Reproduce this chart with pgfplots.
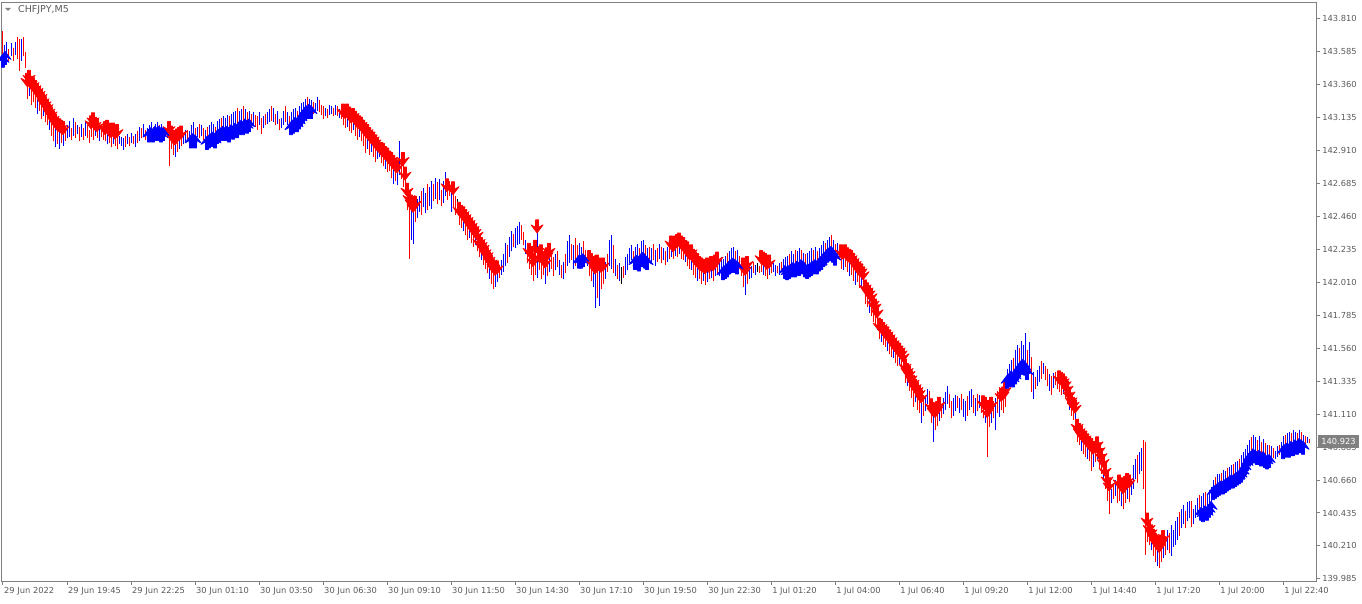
\documentclass[border=0pt]{standalone}
\usepackage{pgfplots}
\pgfplotsset{compat=1.18}
\usepackage{pgfplotstable}
\usepackage{fontspec}
\setmainfont{DejaVu Sans}
\definecolor{mtred}{RGB}{255,0,0}
\definecolor{mtblue}{RGB}{0,0,255}
\definecolor{mtgray}{RGB}{128,128,128}
\definecolor{mttext}{RGB}{90,90,90}
\newcommand\tf{\fontsize{8.3}{10}\selectfont}
\pgfdeclareplotmark{dnarrow}{%
 \pgfpathmoveto{\pgfpoint{0pt}{-5pt}}%
 \pgfpathlineto{\pgfpoint{6pt}{3pt}}%
 \pgfpathlineto{\pgfpoint{1.5pt}{0.5pt}}%
 \pgfpathlineto{\pgfpoint{1.5pt}{8pt}}%
 \pgfpathlineto{\pgfpoint{-1.5pt}{8pt}}%
 \pgfpathlineto{\pgfpoint{-1.5pt}{0.5pt}}%
 \pgfpathlineto{\pgfpoint{-6pt}{3pt}}%
 \pgfpathclose
 \pgfusepathqfillstroke}
\pgfdeclareplotmark{uparrow}{%
 \pgfpathmoveto{\pgfpoint{0pt}{5pt}}%
 \pgfpathlineto{\pgfpoint{6pt}{-3pt}}%
 \pgfpathlineto{\pgfpoint{1.5pt}{-0.5pt}}%
 \pgfpathlineto{\pgfpoint{1.5pt}{-8pt}}%
 \pgfpathlineto{\pgfpoint{-1.5pt}{-8pt}}%
 \pgfpathlineto{\pgfpoint{-1.5pt}{-0.5pt}}%
 \pgfpathlineto{\pgfpoint{-6pt}{-3pt}}%
 \pgfpathclose
 \pgfusepathqfillstroke}
\pgfplotstableread{
i lo hi c s
0 143.53 143.72 0 2
1 143.55 143.63 1 2
2 143.54 143.65 1 0
3 143.51 143.60 0 0
4 143.55 143.64 1 0
5 143.52 143.61 0 0
6 143.56 143.65 1 0
7 143.53 143.68 0 0
8 143.45 143.67 0 0
9 143.52 143.67 1 0
10 143.55 143.68 0 0
11 143.47 143.58 0 0
12 143.26 143.38 0 1
13 143.28 143.40 1 1
14 143.22 143.36 0 1
15 143.24 143.35 0 1
16 143.20 143.33 0 1
17 143.16 143.31 1 1
18 143.18 143.29 0 1
19 143.12 143.27 0 1
20 143.14 143.24 1 1
21 143.10 143.22 0 1
22 143.08 143.20 0 1
23 143.05 143.17 1 1
24 143.01 143.15 0 1
25 142.97 143.12 0 1
26 142.93 143.10 1 1
27 142.95 143.08 0 1
28 142.92 143.07 1 1
29 142.96 143.06 0 1
30 142.94 143.05 1 1
31 142.97 143.07 0 0
32 142.99 143.08 1 0
33 143.00 143.11 1 0
34 142.98 143.06 0 0
35 143.01 143.13 1 0
36 142.99 143.10 0 0
37 143.02 143.08 1 0
38 142.97 143.07 0 0
39 143.00 143.09 1 0
40 142.98 143.06 0 0
41 143.01 143.10 1 0
42 142.99 143.08 0 0
43 142.96 143.05 0 0
44 143.00 143.09 0 1
45 142.98 143.11 0 1
46 143.01 143.08 1 1
47 142.99 143.07 0 1
48 142.97 143.06 1 0
49 143.00 143.08 0 0
50 142.98 143.05 0 0
51 142.97 143.05 0 1
52 142.95 143.06 1 1
53 142.96 143.04 0 1
54 142.93 143.03 0 1
55 142.95 143.04 1 1
56 142.94 143.02 0 1
57 142.92 143.03 0 1
58 142.95 143.01 1 0
59 142.94 143.00 1 0
60 142.91 142.99 1 0
61 142.93 143.01 0 0
62 142.95 143.02 1 0
63 142.94 143.00 0 0
64 142.96 143.03 1 0
65 142.95 143.01 0 0
66 142.93 143.02 1 0
67 142.96 143.04 0 0
68 142.97 143.07 1 0
69 142.99 143.06 0 0
70 143.00 143.09 1 0
71 142.98 143.05 0 0
72 143.00 143.06 1 0
73 143.02 143.08 1 2
74 143.03 143.10 1 2
75 143.02 143.07 0 2
76 143.04 143.09 1 2
77 143.03 143.10 1 2
78 143.04 143.08 0 2
79 143.02 143.09 1 2
80 143.03 143.07 0 2
81 143.01 143.06 0 0
82 142.99 143.05 1 0
83 142.80 143.05 0 1
84 142.92 143.02 0 1
85 142.88 142.99 0 1
86 142.86 142.98 1 1
87 142.90 143.00 0 1
88 142.92 143.01 1 1
89 142.94 143.02 0 1
90 142.95 143.03 1 0
91 142.96 143.05 1 0
92 142.97 143.05 0 0
93 142.96 143.04 1 0
94 142.98 143.08 1 2
95 142.99 143.10 1 2
96 142.98 143.06 0 2
97 143.00 143.07 1 0
98 142.99 143.09 0 0
99 143.01 143.08 1 0
100 142.98 143.06 0 0
101 142.99 143.05 1 0
102 142.97 143.07 0 2
103 142.98 143.08 1 2
104 142.99 143.10 1 2
105 143.00 143.09 1 2
106 142.98 143.07 0 2
107 143.01 143.11 1 2
108 143.02 143.12 1 2
109 143.03 143.13 0 2
110 143.04 143.14 1 2
111 143.03 143.13 1 2
112 143.04 143.15 1 2
113 143.02 143.14 0 2
114 143.05 143.16 1 2
115 143.04 143.17 1 2
116 143.06 143.18 1 2
117 143.05 143.20 0 2
118 143.07 143.18 1 2
119 143.08 143.19 1 2
120 143.07 143.21 0 2
121 143.09 143.19 1 2
122 143.08 143.17 0 2
123 143.09 143.18 1 2
124 143.07 143.16 0 0
125 143.08 143.17 1 0
126 143.07 143.15 0 0
127 143.05 143.14 0 0
128 143.08 143.17 1 0
129 143.02 143.13 0 0
130 143.06 143.14 1 0
131 143.08 143.16 0 0
132 143.09 143.17 1 0
133 143.10 143.19 1 0
134 143.11 143.21 0 0
135 143.10 143.20 1 0
136 143.08 143.16 0 0
137 143.09 143.18 1 0
138 143.05 143.12 0 0
139 143.06 143.13 1 0
140 143.08 143.18 1 0
141 143.10 143.21 0 0
142 143.08 143.17 1 0
143 143.06 143.14 0 0
144 143.07 143.17 1 2
145 143.08 143.19 1 2
146 143.10 143.20 1 2
147 143.09 143.18 0 2
148 143.11 143.21 1 2
149 143.13 143.23 1 2
150 143.15 143.24 1 2
151 143.17 143.26 1 2
152 143.18 143.27 0 2
153 143.19 143.26 1 2
154 143.18 143.25 1 2
155 143.16 143.24 0 0
156 143.17 143.23 1 0
157 143.18 143.27 1 0
158 143.17 143.25 0 0
159 143.15 143.22 0 0
160 143.12 143.21 0 0
161 143.14 143.20 1 0
162 143.13 143.19 0 0
163 143.15 143.22 1 0
164 143.16 143.21 1 0
165 143.14 143.20 0 0
166 143.15 143.22 1 0
167 143.14 143.21 0 0
168 143.13 143.19 1 0
169 143.12 143.20 0 0
170 143.08 143.17 0 1
171 143.06 143.16 0 1
172 143.07 143.17 1 1
173 143.04 143.15 0 1
174 143.03 143.13 0 1
175 143.05 143.14 1 1
176 143.01 143.12 0 1
177 142.98 143.10 0 1
178 143.00 143.09 1 1
179 142.97 143.08 0 1
180 142.94 143.06 0 1
181 142.89 143.04 0 1
182 142.92 143.03 1 1
183 142.88 143.01 0 1
184 142.90 142.99 1 1
185 142.86 142.98 0 1
186 142.83 142.96 0 1
187 142.85 142.94 1 1
188 142.86 142.95 1 0
189 142.82 142.91 0 1
190 142.80 142.90 0 1
191 142.78 142.88 1 1
192 142.76 142.87 0 1
193 142.77 142.85 0 1
194 142.72 142.84 0 1
195 142.68 142.82 1 1
196 142.70 142.80 0 1
197 142.67 142.79 1 1
198 142.74 142.97 1 0
199 142.71 142.82 0 0
200 142.66 142.84 0 1
201 142.64 142.74 0 1
202 142.50 142.63 0 1
203 142.17 142.58 0 1
204 142.30 142.55 1 1
205 142.27 142.52 1 1
206 142.42 142.54 0 1
207 142.45 142.58 1 0
208 142.49 142.60 1 0
209 142.47 142.63 0 0
210 142.52 142.65 1 0
211 142.48 142.62 1 0
212 142.50 142.68 0 0
213 142.53 142.66 1 0
214 142.51 142.70 1 0
215 142.56 142.68 0 0
216 142.58 142.72 1 0
217 142.54 142.69 0 0
218 142.57 142.71 1 0
219 142.53 142.64 0 0
220 142.55 142.70 1 0
221 142.60 142.76 1 0
222 142.57 142.66 0 1
223 142.60 142.70 0 0
224 142.49 142.63 1 0
225 142.52 142.64 0 1
226 142.47 142.60 0 0
227 142.49 142.58 2 0
228 142.40 142.50 0 1
229 142.38 142.48 0 1
230 142.36 142.47 1 1
231 142.33 142.45 0 1
232 142.30 142.43 0 1
233 142.31 142.41 1 1
234 142.28 142.39 0 1
235 142.25 142.37 0 1
236 142.26 142.35 1 1
237 142.22 142.33 0 1
238 142.18 142.28 0 1
239 142.16 142.26 1 1
240 142.13 142.24 0 1
241 142.10 142.21 0 1
242 142.07 142.19 0 1
243 142.03 142.16 1 1
244 142.00 142.14 0 1
245 141.96 142.11 0 1
246 141.98 142.09 1 1
247 142.01 142.10 1 1
248 142.04 142.13 0 0
249 142.06 142.16 1 0
250 142.08 142.20 1 0
251 142.12 142.28 1 0
252 142.14 142.26 0 0
253 142.18 142.32 1 0
254 142.22 142.36 1 0
255 142.25 142.34 0 0
256 142.24 142.38 1 0
257 142.26 142.39 1 0
258 142.27 142.42 1 0
259 142.30 142.40 0 0
260 142.26 142.35 0 0
261 142.20 142.30 1 0
262 142.14 142.25 0 0
263 142.10 142.22 0 1
264 142.06 142.20 0 1
265 142.02 142.15 0 1
266 142.06 142.24 0 1
267 142.04 142.38 1 1
268 142.09 142.18 0 1
269 142.03 142.21 0 1
270 142.06 142.16 0 1
271 142.00 142.14 1 1
272 142.05 142.19 0 1
273 142.08 142.22 1 1
274 142.10 142.20 0 0
275 142.05 142.18 0 0
276 142.09 142.20 1 0
277 142.11 142.22 0 0
278 142.06 142.16 1 0
279 142.04 142.13 0 0
280 142.03 142.15 1 0
281 142.07 142.20 0 0
282 142.12 142.29 1 0
283 142.14 142.33 1 0
284 142.16 142.27 0 0
285 142.10 142.26 1 0
286 142.12 142.31 0 0
287 142.15 142.26 0 0
288 142.16 142.28 1 2
289 142.16 142.25 1 2
290 142.17 142.29 0 2
291 142.14 142.23 0 0
292 142.12 142.22 1 0
293 142.05 142.17 0 1
294 142.02 142.15 0 1
295 141.98 142.13 1 1
296 141.83 142.10 1 1
297 141.90 142.14 0 1
298 141.85 142.12 1 1
299 141.96 142.11 0 1
300 142.00 142.12 0 1
301 142.03 142.15 1 0
302 142.08 142.20 0 0
303 142.12 142.30 1 0
304 142.10 142.33 1 0
305 142.07 142.26 0 0
306 142.05 142.17 1 0
307 142.03 142.13 0 0
308 142.02 142.14 1 0
309 142.00 142.11 2 0
310 142.04 142.12 0 0
311 142.06 142.18 1 0
312 142.09 142.20 1 0
313 142.14 142.24 1 0
314 142.16 142.26 1 0
315 142.12 142.22 0 0
316 142.15 142.25 1 2
317 142.16 142.27 1 2
318 142.14 142.24 0 2
319 142.17 142.29 1 2
320 142.18 142.30 1 2
321 142.16 142.26 0 2
322 142.15 142.24 1 2
323 142.17 142.25 0 0
324 142.14 142.24 1 0
325 142.16 142.27 0 0
326 142.12 142.23 1 0
327 142.15 142.24 0 0
328 142.17 142.27 1 0
329 142.14 142.25 0 0
330 142.16 142.24 1 0
331 142.13 142.22 0 0
332 142.15 142.25 1 0
333 142.17 142.27 0 0
334 142.18 142.27 1 1
335 142.17 142.25 0 1
336 142.19 142.27 1 1
337 142.18 142.28 0 1
338 142.20 142.29 1 1
339 142.17 142.27 0 1
340 142.16 142.26 0 1
341 142.15 142.24 1 1
342 142.12 142.23 0 1
343 142.10 142.20 0 1
344 142.09 142.21 1 1
345 142.06 142.18 0 1
346 142.04 142.16 0 1
347 142.02 142.15 1 1
348 142.03 142.13 0 1
349 142.00 142.12 0 1
350 142.02 142.11 1 1
351 141.99 142.10 0 1
352 142.01 142.12 1 1
353 142.03 142.11 0 1
354 142.04 142.13 1 1
355 142.02 142.12 0 1
356 142.05 142.14 1 1
357 142.06 142.16 0 1
358 142.05 142.15 1 0
359 142.07 142.18 1 0
360 142.08 142.17 1 2
361 142.09 142.19 1 2
362 142.10 142.21 0 2
363 142.12 142.22 1 2
364 142.13 142.24 1 2
365 142.14 142.25 1 2
366 142.13 142.22 0 2
367 142.12 142.23 1 2
368 142.11 142.19 0 0
369 142.05 142.17 0 0
370 141.98 142.12 0 1
371 141.92 142.09 1 1
372 142.00 142.13 0 1
373 142.03 142.11 1 0
374 142.04 142.12 1 0
375 142.07 142.15 0 0
376 142.06 142.13 1 0
377 142.08 142.14 2 0
378 142.07 142.12 0 0
379 142.08 142.17 0 1
380 142.06 142.16 1 1
381 142.05 142.15 0 1
382 142.03 142.13 0 1
383 142.06 142.14 1 1
384 142.07 142.15 0 0
385 142.08 142.14 1 0
386 142.05 142.13 1 0
387 142.07 142.12 0 0
388 142.06 142.14 1 0
389 142.08 142.15 0 0
390 142.09 142.17 1 0
391 142.09 142.18 1 2
392 142.08 142.19 1 2
393 142.09 142.20 0 2
394 142.10 142.22 1 2
395 142.11 142.20 1 2
396 142.10 142.23 0 2
397 142.12 142.22 1 2
398 142.11 142.24 1 2
399 142.13 142.23 0 2
400 142.12 142.21 1 2
401 142.10 142.20 0 2
402 142.09 142.21 1 2
403 142.10 142.22 1 2
404 142.11 142.24 1 2
405 142.12 142.23 0 2
406 142.13 142.25 1 2
407 142.12 142.22 0 2
408 142.14 142.24 1 2
409 142.15 142.26 1 2
410 142.17 142.29 1 2
411 142.18 142.28 0 2
412 142.20 142.30 1 2
413 142.21 142.32 1 2
414 142.22 142.33 0 2
415 142.20 142.30 1 2
416 142.18 142.27 0 2
417 142.19 142.28 1 0
418 142.17 142.26 0 0
419 142.10 142.21 0 1
420 142.09 142.20 1 1
421 142.11 142.21 0 1
422 142.08 142.19 0 1
423 142.05 142.18 1 1
424 142.06 142.17 0 1
425 142.02 142.15 0 1
426 141.99 142.13 1 1
427 142.01 142.11 0 1
428 141.97 142.09 0 1
429 141.98 142.08 1 1
430 141.95 142.06 0 1
431 141.86 141.97 0 1
432 141.84 141.95 0 1
433 141.80 141.93 1 1
434 141.78 141.91 0 1
435 141.74 141.86 0 1
436 141.72 141.84 0 1
437 141.68 141.80 1 1
438 141.62 141.71 0 1
439 141.60 141.70 1 1
440 141.58 141.68 0 1
441 141.57 141.66 0 1
442 141.54 141.65 1 1
443 141.52 141.63 0 1
444 141.50 141.61 0 1
445 141.49 141.59 1 1
446 141.46 141.57 0 1
447 141.44 141.55 0 1
448 141.45 141.54 1 1
449 141.42 141.52 0 1
450 141.40 141.50 0 1
451 141.32 141.43 0 1
452 141.30 141.40 1 1
453 141.27 141.38 0 1
454 141.22 141.35 0 1
455 141.16 141.32 0 1
456 141.19 141.29 1 1
457 141.14 141.27 0 1
458 141.12 141.25 0 1
459 141.05 141.22 1 1
460 141.10 141.24 0 0
461 141.13 141.23 1 0
462 141.18 141.28 1 0
463 141.16 141.27 0 0
464 141.05 141.16 0 1
465 140.92 141.13 1 1
466 141.00 141.12 0 1
467 141.03 141.14 0 1
468 141.06 141.17 1 1
469 141.08 141.18 0 0
470 141.11 141.22 1 0
471 141.14 141.26 1 0
472 141.18 141.30 1 0
473 141.15 141.25 0 0
474 141.08 141.20 0 0
475 141.10 141.22 1 0
476 141.13 141.24 1 0
477 141.15 141.23 0 0
478 141.12 141.22 1 0
479 141.14 141.25 0 0
480 141.09 141.21 1 0
481 141.06 141.20 1 0
482 141.10 141.23 0 0
483 141.14 141.27 1 0
484 141.16 141.28 1 0
485 141.12 141.24 0 0
486 141.10 141.22 1 0
487 141.13 141.25 0 0
488 141.15 141.24 1 0
489 141.12 141.21 0 0
490 141.08 141.18 0 1
491 141.05 141.17 1 1
492 140.82 141.12 0 1
493 141.02 141.15 0 1
494 141.05 141.17 1 1
495 141.08 141.20 0 0
496 141.00 141.22 1 0
497 141.12 141.27 0 0
498 141.09 141.24 1 0
499 141.14 141.23 0 1
500 141.12 141.24 0 1
501 141.16 141.27 0 1
502 141.34 141.42 1 2
503 141.35 141.45 1 2
504 141.37 141.48 1 2
505 141.35 141.49 0 2
506 141.37 141.55 1 2
507 141.40 141.58 1 2
508 141.42 141.56 0 2
509 141.44 141.61 1 2
510 141.45 141.58 1 2
511 141.43 141.66 1 2
512 141.40 141.55 0 2
513 141.38 141.60 1 0
514 141.26 141.50 0 0
515 141.21 141.40 1 0
516 141.28 141.36 0 0
517 141.30 141.41 1 0
518 141.33 141.44 1 0
519 141.35 141.47 0 0
520 141.38 141.46 1 0
521 141.34 141.44 0 0
522 141.30 141.42 0 0
523 141.27 141.38 1 0
524 141.24 141.37 0 0
525 141.29 141.39 1 0
526 141.31 141.40 0 0
527 141.28 141.37 0 0
528 141.26 141.35 0 1
529 141.24 141.34 0 1
530 141.25 141.33 1 1
531 141.22 141.31 0 1
532 141.18 141.28 0 1
533 141.14 141.24 1 1
534 141.10 141.20 0 1
535 141.07 141.17 0 1
536 141.06 141.15 1 1
537 140.92 141.02 0 1
538 140.90 140.99 0 1
539 140.86 140.97 1 1
540 140.84 140.95 0 1
541 140.82 140.94 0 1
542 140.80 140.92 1 1
543 140.79 140.90 0 1
544 140.72 140.89 0 1
545 140.75 140.87 1 1
546 140.78 140.88 0 0
547 140.80 140.90 1 1
548 140.74 140.86 0 1
549 140.70 140.82 0 1
550 140.66 140.78 1 1
551 140.60 140.72 0 1
552 140.52 140.66 0 1
553 140.43 140.62 0 1
554 140.50 140.60 1 0
555 140.53 140.64 0 0
556 140.55 140.66 1 0
557 140.50 140.62 0 0
558 140.52 140.64 0 1
559 140.48 140.62 1 1
560 140.46 140.60 0 1
561 140.50 140.63 0 1
562 140.53 140.65 1 1
563 140.51 140.64 0 1
564 140.56 140.67 1 0
565 140.60 140.76 1 0
566 140.67 140.80 1 0
567 140.64 140.83 0 0
568 140.70 140.85 1 0
569 140.72 140.88 1 0
570 140.60 140.93 0 0
571 140.15 140.92 0 0
572 140.24 140.38 0 1
573 140.22 140.33 0 1
574 140.18 140.30 1 1
575 140.14 140.27 0 1
576 140.10 140.24 0 1
577 140.07 140.22 1 1
578 140.06 140.20 0 1
579 140.10 140.23 0 1
580 140.13 140.26 1 1
581 140.15 140.28 0 0
582 140.18 140.32 1 0
583 140.16 140.30 0 0
584 140.14 140.35 1 0
585 140.20 140.32 1 0
586 140.22 140.38 1 0
587 140.25 140.41 1 0
588 140.28 140.44 0 0
589 140.33 140.46 1 0
590 140.36 140.49 1 0
591 140.33 140.45 0 0
592 140.38 140.51 1 0
593 140.40 140.52 1 0
594 140.34 140.52 0 0
595 140.36 140.46 1 0
596 140.40 140.49 1 0
597 140.42 140.54 1 0
598 140.44 140.56 0 0
599 140.44 140.55 1 2
600 140.43 140.57 1 2
601 140.45 140.58 0 2
602 140.44 140.56 1 2
603 140.46 140.59 1 2
604 140.48 140.61 1 2
605 140.58 140.66 1 2
606 140.59 140.68 0 2
607 140.60 140.70 1 2
608 140.61 140.70 1 2
609 140.62 140.71 0 2
610 140.62 140.73 1 2
611 140.63 140.72 1 2
612 140.64 140.74 0 2
613 140.65 140.75 1 2
614 140.66 140.76 1 2
615 140.66 140.77 0 2
616 140.67 140.78 1 2
617 140.68 140.79 1 2
618 140.69 140.80 0 2
619 140.70 140.83 1 2
620 140.72 140.85 1 2
621 140.75 140.87 1 2
622 140.78 140.90 1 2
623 140.81 140.93 1 2
624 140.82 140.95 0 2
625 140.84 140.97 1 2
626 140.83 140.95 1 2
627 140.82 140.93 0 2
628 140.83 140.96 1 2
629 140.81 140.92 0 2
630 140.82 140.94 1 2
631 140.80 140.91 0 2
632 140.79 140.90 1 2
633 140.80 140.90 0 2
634 140.81 140.89 1 0
635 140.81 140.88 0 0
636 140.80 140.86 1 0
637 140.82 140.89 1 0
638 140.83 140.90 0 0
639 140.84 140.92 1 0
640 140.86 140.96 1 2
641 140.87 140.97 0 2
642 140.88 140.98 1 2
643 140.87 140.99 1 2
644 140.89 140.98 0 2
645 140.88 141.00 1 2
646 140.90 140.99 1 2
647 140.89 140.98 0 2
648 140.91 141.00 1 2
649 140.90 140.99 0 2
650 140.89 140.97 1 2
651 140.90 140.96 0 0
652 140.91 140.95 1 0
653 140.91 140.94 0 0
}\bars
\begin{document}
\begin{tikzpicture}
\useasboundingbox (0,0) rectangle (1362pt,603pt);
\begin{axis}[
  at={(2pt,22pt)}, anchor=south west, scale only axis,
  width=1314pt, height=578pt,
  xmin=-0.5, xmax=656.5, ymin=139.971, ymax=143.914,
  clip mode=individual,
  axis line style={mtgray, line width=1pt},
  tick align=outside, major tick length=4pt,
  major tick style={mtgray, line width=1pt},
  xtick pos=left, ytick pos=right, yticklabel pos=right,
  xtick={0,32,...,640},
  xticklabels={29 Jun 2022,29 Jun 19:45,29 Jun 22:25,30 Jun 01:10,30 Jun 03:50,30 Jun 06:30,30 Jun 09:10,30 Jun 11:50,30 Jun 14:30,30 Jun 17:10,30 Jun 19:50,30 Jun 22:30,1 Jul 01:20,1 Jul 04:00,1 Jul 06:40,1 Jul 09:20,1 Jul 12:00,1 Jul 14:40,1 Jul 17:20,1 Jul 20:00,1 Jul 22:40},
  ytick={143.810,143.585,143.360,143.135,142.910,142.685,142.460,142.235,142.010,141.785,141.560,141.335,141.110,140.885,140.660,140.435,140.210,139.985},
  yticklabels={143.810,143.585,143.360,143.135,142.910,142.685,142.460,142.235,142.010,141.785,141.560,141.335,141.110,140.885,140.660,140.435,140.210,139.985},
  tick label style={font=\tf, text=mttext},
  xticklabel style={anchor=north west, inner sep=0pt, xshift=1pt, yshift=-2pt},
  yticklabel style={anchor=west, inner sep=0pt, xshift=2pt},
  filter discard warning=false,
  /pgf/number format/assume math mode=true,
]
\addplot[draw=mtred, line width=1pt, mark=none, forget plot,
  restrict expr to domain={\thisrow{c}}{0:0},
  quiver={u=0, v=\thisrow{hi}-\thisrow{lo}}]
  table[x=i, y=lo] {\bars};
\addplot[draw=mtblue, line width=1pt, mark=none, forget plot,
  restrict expr to domain={\thisrow{c}}{1:1},
  quiver={u=0, v=\thisrow{hi}-\thisrow{lo}}]
  table[x=i, y=lo] {\bars};
\addplot[draw=black, line width=1pt, mark=none, forget plot,
  restrict expr to domain={\thisrow{c}}{2:2},
  quiver={u=0, v=\thisrow{hi}-\thisrow{lo}}]
  table[x=i, y=lo] {\bars};
\addplot[only marks, mark=dnarrow, mark options={fill=mtred, draw=mtred, line width=0.8pt, line join=round},
  restrict expr to domain={\thisrow{s}}{1:1}]
  table[x=i, y=hi] {\bars};
\addplot[only marks, mark=uparrow, mark options={fill=mtblue, draw=mtblue, line width=0.8pt, line join=round},
  restrict expr to domain={\thisrow{s}}{2:2}]
  table[x=i, y=lo] {\bars};
\node[anchor=west, inner xsep=3pt, inner ysep=0pt, minimum height=13pt, fill=mtgray, text=white, font=\tf, xshift=2pt] at (axis cs:656.5,140.923) {140.923};
\node[anchor=west, inner sep=0pt, font=\fontsize{9.5}{11}\selectfont, text=mttext, xshift=16pt, yshift=-7pt] at (rel axis cs:0,1) {CHFJPY,M5};
\fill[mtgray] ([shift={(3pt,-5pt)}]rel axis cs:0,1) -- ([shift={(9pt,-5pt)}]rel axis cs:0,1) -- ([shift={(6pt,-8pt)}]rel axis cs:0,1) -- cycle;
\end{axis}
\end{tikzpicture}
\end{document}
